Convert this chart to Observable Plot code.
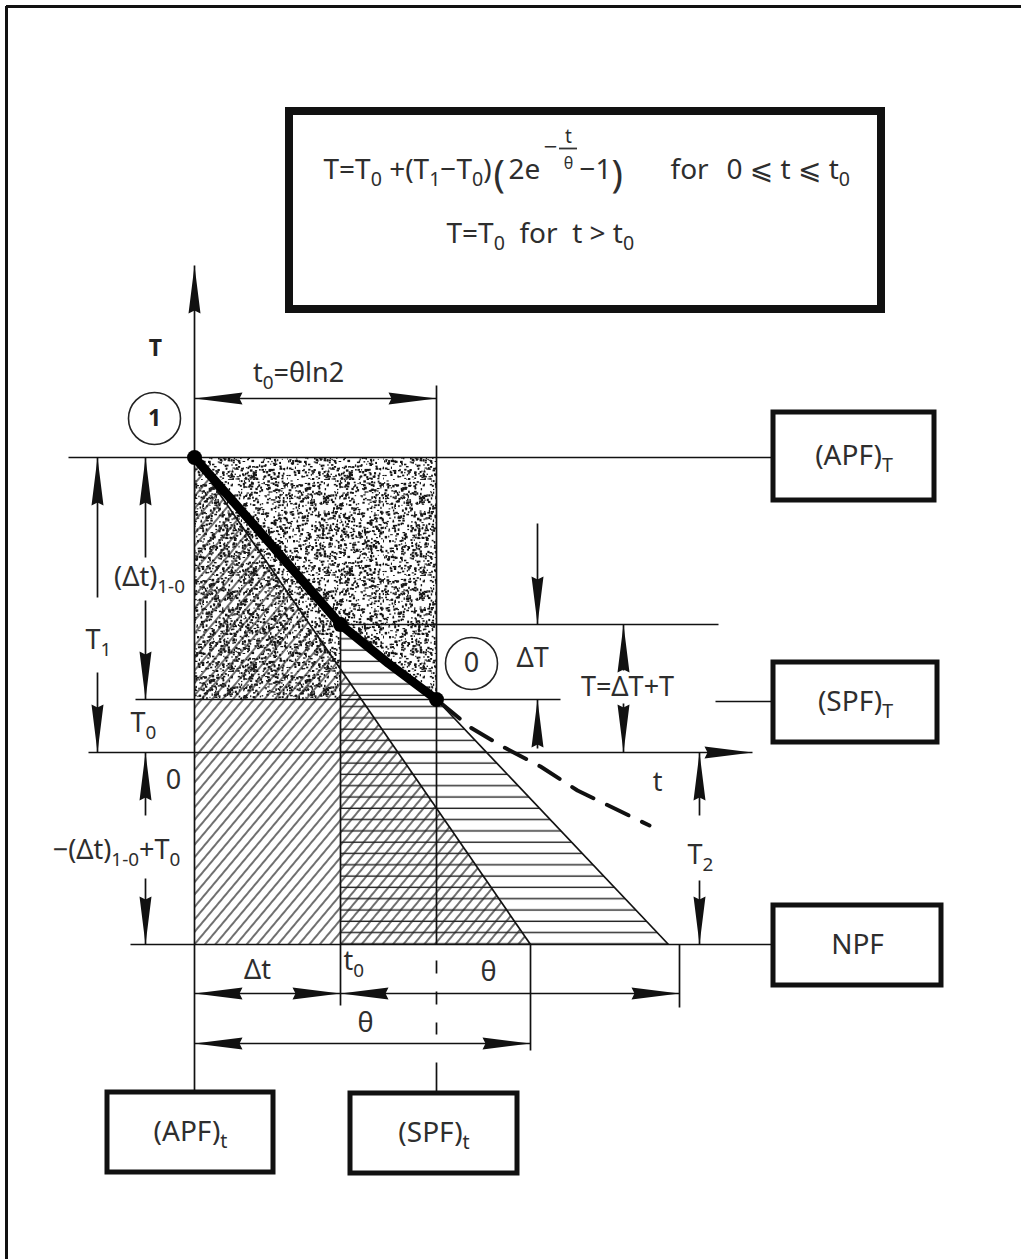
<!DOCTYPE html>
<html>
<head>
<meta charset="utf-8">
<script src="https://cdn.jsdelivr.net/npm/d3@7"></script>
<script src="https://cdn.jsdelivr.net/npm/@observablehq/plot@0.6"></script>
<style>
  html, body { margin: 0; padding: 0; background: #fff; overflow: hidden; }
  svg { display: block; }
</style>
</head>
<body>
<div id="chart"></div>
<script>
// ---- Diagram quantities (diagram units; the t axis is T = 0, the T axis is t = 0) ----
// Temperature levels
const T1 = 29.5;       // state 1, (APF)T level
const Tdelta = 12.8;   // upper edge of ΔT
const T0 = 5.3;        // state 0, (SPF)T level
const Tnpf = -19.2;    // NPF level (T2 below the t axis)

// Times along the t axis
const dt = 14.6;       // Δt
const t0 = 24.2;       // t0 = θ ln2
const theta = 33.6;    // θ
const tHatch = 47.4;   // foot of the horizontally hatched wedge
const tEnd = 48.5;     // end of the θ span measured from Δt

// Heavy cooling curve from 1 to 0
const curveT = [0, 7.3, 14.6, 19.4, 24.2];
const curveTemp = [29.5, 21.2, 12.8, 8.9, 5.3];

// Dashed continuation of the curve past t0
const tailT = [24.2, 27.6, 30.8, 34.6, 38.3, 45.5];
const tailTemp = [5.3, 2.5, 0.6, -1.4, -3.8, -7.3];

// Axis extents
const tAxis = [-10.6, 55.8];
const TAxis = [-34.0, 48.7];

// Dimension-line columns and rows
const colT1 = -9.7, colDt = -4.9, colDT = 34.3, colSum = 42.9, colT2 = 50.5;
const rowTop = 35.4, rowA = -24.1, rowB = -29.1;

// Labelled boxes
const boxLabels = ["(APF)_T", "(SPF)_T", "NPF", "(APF)_t", "(SPF)_t"];
const boxT1 = [57.9, 57.9, 57.9, -8.7, 15.6];
const boxT2 = [74.0, 74.3, 74.7, 7.9, 32.3];
const boxLo = [25.2, 1.0, -23.3, -42.0, -42.1];
const boxHi = [34.0, 9.0, -15.3, -34.0, -34.1];

// ---- Derived tables ----
const curve = curveT.map((t, i) => ({t, T: curveTemp[i]}));
const tail = tailT.map((t, i) => ({t, T: tailTemp[i]}));
const lowerCurve = curve.filter(d => d.t >= dt);
const boxes = boxLabels.map((label, i) => ({label, x1: boxT1[i], x2: boxT2[i], y1: boxLo[i], y2: boxHi[i]}));

const stipple = [{t: 0, lo: T0, hi: T1}, {t: dt, lo: T0, hi: T1},
  ...lowerCurve.map(d => ({t: d.t, lo: d.T, hi: T1}))];
const diagWedge = [{t: 0, hi: T1}, {t: theta, hi: Tnpf}];
const horizWedge = [...lowerCurve.map(d => ({t: d.t, hi: d.T})), {t: tHatch, hi: Tnpf}];

const lines = [
  [0, TAxis[0], 0, TAxis[1]],            // T axis
  [tAxis[0], 0, tAxis[1], 0],            // t axis
  [-12.6, T1, boxT1[0], T1],             // (APF)T level
  [dt, Tdelta, 52.4, Tdelta],            // ΔT upper level
  [-5.9, T0, 36.6, T0],                  // T0 level
  [52.1, 5.1, boxT1[1], 5.1],            // lead to (SPF)T
  [-6.4, Tnpf, boxT1[2], Tnpf],          // NPF level
  [dt, Tdelta, dt, -25.3],               // Δt vertical
  [t0, 36.7, t0, Tnpf],                  // t0 vertical
  [t0, -31.0, t0, boxHi[4]],             // lead to (SPF)t
  [theta, Tnpf, theta, -29.8],           // θ vertical
  [tEnd, Tnpf, tEnd, -25.5],             // end of θ span
  [0, T1, theta, Tnpf],                  // edge of the diagonal wedge
  [t0, T0, tHatch, Tnpf],                // edge of the horizontal wedge
  [0, rowTop, t0, rowTop],               // t0 = θ ln2
  [colT1, T1, colT1, 15.5], [colT1, 8.0, colT1, 0],
  [colDt, T1, colDt, 19.5], [colDt, 15.2, colDt, T0],
  [colDt, 0, colDt, -6.3], [colDt, -12.6, colDt, Tnpf],
  [colDT, 22.9, colDT, Tdelta], [colDT, 0.4, colDT, T0],
  [colSum, Tdelta, colSum, 8.2], [colSum, 4.9, colSum, 0],
  [colT2, 0, colT2, -6.3], [colT2, -12.8, colT2, Tnpf],
  [0, rowA, tEnd, rowA],
  [0, rowB, theta, rowB]
];

const arrows = [
  {t: 0, T: TAxis[1], a: 0}, {t: tAxis[1], T: 0, a: 90},
  {t: 0, T: rowTop, a: 270}, {t: t0, T: rowTop, a: 90},
  {t: colT1, T: T1, a: 0}, {t: colT1, T: 0, a: 180},
  {t: colDt, T: T1, a: 0}, {t: colDt, T: T0, a: 180},
  {t: colDt, T: 0, a: 0}, {t: colDt, T: Tnpf, a: 180},
  {t: colDT, T: Tdelta, a: 180}, {t: colDT, T: T0, a: 0},
  {t: colSum, T: Tdelta, a: 0}, {t: colSum, T: 0, a: 180},
  {t: colT2, T: 0, a: 0}, {t: colT2, T: Tnpf, a: 180},
  {t: 0, T: rowA, a: 270}, {t: dt, T: rowA, a: 90},
  {t: dt, T: rowA, a: 270}, {t: tEnd, T: rowA, a: 90},
  {t: 0, T: rowB, a: 270}, {t: theta, T: rowB, a: 90}
];

const labels = [
  {s: "t_0=θln2", t: 10.4, T: 37.9},
  {s: "(Δt)_{1-0}", t: -4.5, T: 17.5},
  {s: "T_1", t: -9.6, T: 11.2},
  {s: "T_0", t: -5.1, T: 2.9},
  {s: "0", t: -2.1, T: -2.8},
  {s: "−(Δt)_{1-0}+T_0", t: -7.8, T: -9.8},
  {s: "ΔT", t: 33.8, T: 9.4},
  {s: "T=ΔT+T", t: 43.3, T: 6.5},
  {s: "t", t: 46.3, T: -3.0},
  {s: "T_2", t: 50.6, T: -10.3},
  {s: "Δt", t: 6.3, T: -21.8},
  {s: "θ", t: 29.4, T: -22.0},
  {s: "θ", t: 17.1, T: -27.1},
  {s: "0", t: 27.7, T: 8.9}
];
const circled = [{t: -4.0, T: 33.4}, {t: 27.7, T: 8.9}];

// Formula block
const formulaMain = [
  {s: "T=T_0 +(T_1−T_0)", t: 12.9, T: 57.4},
  {s: "2e", t: 31.4, T: 57.4},
  {s: "−1", t: 38.5, T: 57.4},
  {s: "for", t: 47.6, T: 57.4},
  {s: "0 ⩽ t ⩽ t_0", t: 53.2, T: 57.4},
  {s: "T=T_0\u00a0\u00a0for\u00a0\u00a0t > t_0", t: 25.2, T: 51.0}
];
const formulaParens = [{s: "(", t: 29.9, T: 56.6}, {s: ")", t: 41.7, T: 56.6}];
const formulaExp = [{s: "−", t: 35.6, T: 60.5, f: 24}, {s: "t", t: 37.4, T: 61.6, f: 19}, {s: "θ", t: 37.4, T: 58.9, f: 16}];

// Arrowhead glyph: tip at the anchor, pointing up before rotation
const spike = {
  draw(ctx) {
    ctx.moveTo(0, 0);
    ctx.lineTo(6, 48);
    ctx.lineTo(0, 45);
    ctx.lineTo(-6, 48);
    ctx.closePath();
  }
};

const ink = "#111";
const textInk = "#2e2e2e";

const plot = Plot.plot({
  width: 1021,
  height: 1259,
  margin: 0,
  x: {domain: [-19.4, 82.7], axis: null},
  y: {domain: [-50.7, 75.2], axis: null},
  style: {fontFamily: "'Noto Sans', 'DejaVu Sans', sans-serif", background: "#fff", color: ink},
  marks: [
    // page frame
    Plot.ruleY([74.6], {x1: -18.8, x2: 82.7, stroke: ink, strokeWidth: 3}),
    Plot.ruleX([-18.8], {y1: -50.7, y2: 74.6, stroke: ink, strokeWidth: 3}),

    // formula box
    Plot.rect([{}], {x1: () => 9.5, x2: () => 68.7, y1: () => 44.3, y2: () => 64.1, fill: "#fff", stroke: ink, strokeWidth: 8}),

    // shaded regions
    Plot.areaY(stipple, {x: "t", y1: "lo", y2: "hi", fill: "url(#stipple)"}),
    Plot.areaY(diagWedge, {x: "t", y1: () => Tnpf, y2: "hi", fill: "url(#hatchDiag)"}),
    Plot.areaY(horizWedge, {x: "t", y1: () => Tnpf, y2: "hi", fill: "url(#hatchH)"}),

    // construction and dimension lines
    Plot.link(lines, {x1: d => d[0], y1: d => d[1], x2: d => d[2], y2: d => d[3], stroke: ink, strokeWidth: 1.7}),
    Plot.link([[t0, -20.8, t0, -28.2]], {x1: d => d[0], y1: d => d[1], x2: d => d[2], y2: d => d[3], stroke: ink, strokeWidth: 1.7, strokeDasharray: "13,18"}),
    Plot.ruleY([60.4], {x1: 36.5, x2: 38.3, stroke: "#333", strokeWidth: 1.8}),

    // cooling curve
    Plot.line(tail, {x: "t", y: "T", stroke: ink, strokeWidth: 4, strokeDasharray: "24,15", strokeDashoffset: -6}),
    Plot.line(curve, {x: "t", y: "T", stroke: "#000", strokeWidth: 9, strokeLinecap: "round", strokeLinejoin: "round"}),
    Plot.dot(curve.filter(d => d.t === 0 || d.t === dt || d.t === t0), {x: "t", y: "T", r: 7.5, fill: "#000", stroke: "none"}),

    // arrowheads
    Plot.dot(arrows, {x: "t", y: "T", rotate: "a", symbol: spike, fill: ink, stroke: "none"}),

    // state markers
    Plot.dot(circled, {x: "t", y: "T", r: 26, fill: "#fff", stroke: "#222", strokeWidth: 1.6}),

    // labelled boxes
    Plot.rect(boxes, {x1: "x1", x2: "x2", y1: "y1", y2: "y2", fill: "#fff", stroke: ink, strokeWidth: 5}),
    Plot.text(boxes, {x: d => (d.x1 + d.x2) / 2, y: d => (d.y1 + d.y2) / 2, text: "label", fontSize: 28, fill: textInk}),

    // labels
    Plot.text([{s: "T", t: -3.9, T: 40.4}, {s: "1", t: -4.0, T: 33.4}], {x: "t", y: "T", text: "s", fontSize: 23, fontWeight: "bold", fill: "#222"}),
    Plot.text(labels, {x: "t", y: "T", text: "s", fontSize: 27, fill: textInk}),
    Plot.text([{s: "t_0", t: 14.9, T: -20.9}], {x: "t", y: "T", text: "s", fontSize: 27, textAnchor: "start", fill: textInk}),

    // formula
    Plot.text(formulaMain, {x: "t", y: "T", text: "s", fontSize: 28, textAnchor: "start", lineAnchor: "bottom", fill: textInk}),
    Plot.text(formulaParens, {x: "t", y: "T", text: "s", fontSize: 38, textAnchor: "start", lineAnchor: "bottom", fill: textInk}),
    Plot.text(formulaExp, {x: "t", y: "T", text: "s", fontSize: "f", fill: textInk})
  ]
});

// Fill textures for the shaded regions
function addTextures(svg) {
  const ns = "http://www.w3.org/2000/svg";
  const defs = document.createElementNS(ns, "defs");
  let seed = 11;
  const next = () => (seed = (seed * 16807) % 2147483647) / 2147483647;
  let dots = "";
  for (let i = 0; i < 1000; i++) {
    dots += `<rect x="${(next() * 96).toFixed(1)}" y="${(next() * 96).toFixed(1)}" width="${(1 + next() * 1.8).toFixed(1)}" height="${(1 + next() * 1.6).toFixed(1)}"/>`;
  }
  defs.innerHTML =
    `<pattern id="stipple" patternUnits="userSpaceOnUse" width="96" height="96"><g fill="#151515">${dots}</g></pattern>` +
    `<pattern id="hatchDiag" patternUnits="userSpaceOnUse" width="8" height="8" patternTransform="rotate(40)"><line x1="4" y1="0" x2="4" y2="8" stroke="#222" stroke-width="1.3"/></pattern>` +
    `<pattern id="hatchH" patternUnits="userSpaceOnUse" width="20" height="11.3" y="1"><line x1="0" y1="5" x2="20" y2="5" stroke="#222" stroke-width="1.4"/></pattern>`;
  svg.insertBefore(defs, svg.firstChild);
}

// Turn _x / _{..} and ^x / ^{..} into sub- and superscript spans
function typesetScripts(svg) {
  const ns = "http://www.w3.org/2000/svg";
  for (const el of svg.querySelectorAll("text")) {
    const src = el.textContent;
    if (!/[_^]/.test(src)) continue;
    const fs = parseFloat(getComputedStyle(el).fontSize) || 24;
    el.textContent = "";
    let shift = 0;
    const re = /([_^])\{([^}]*)\}|([_^])([^{])|([^_^]+)/g;
    let m;
    while ((m = re.exec(src))) {
      const span = document.createElementNS(ns, "tspan");
      if (m[5] !== undefined) {
        span.textContent = m[5];
        if (shift) span.setAttribute("dy", -shift);
        shift = 0;
      } else {
        const kind = m[1] || m[3];
        const body = m[2] !== undefined ? m[2] : m[4];
        const d = kind === "_" ? 0.25 * fs : -0.42 * fs;
        span.textContent = body;
        span.setAttribute("font-size", (0.7 * fs).toFixed(1));
        span.setAttribute("dy", (d - shift).toFixed(2));
        shift = d;
      }
      el.appendChild(span);
    }
  }
}

document.getElementById("chart").appendChild(plot);
addTextures(plot);
typesetScripts(plot);
</script>
</body>
</html>
